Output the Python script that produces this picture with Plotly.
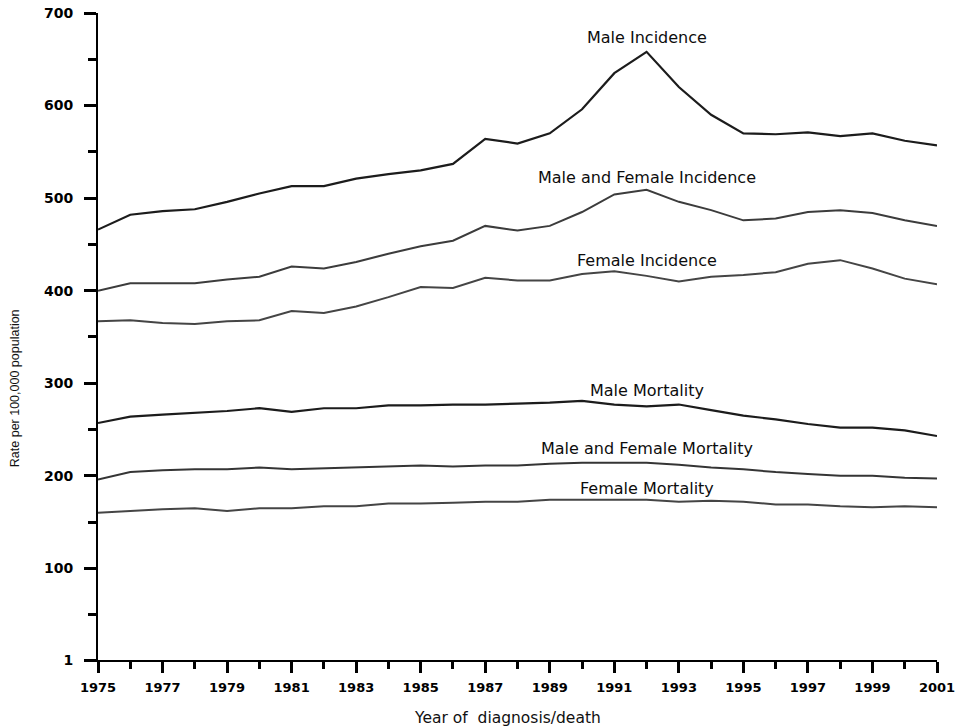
import plotly.graph_objects as go

# Rates per 100,000 population, 1975-2001
years = list(range(1975, 2002))

male_incidence = [466, 482, 486, 488, 496, 505, 513, 513, 521, 526, 530, 537, 564, 559,
                  570, 596, 635, 658, 620, 590, 570, 569, 571, 567, 570, 562, 557]
both_incidence = [400, 408, 408, 408, 412, 415, 426, 424, 431, 440, 448, 454, 470, 465,
                  470, 485, 504, 509, 496, 487, 476, 478, 485, 487, 484, 476, 470]
female_incidence = [367, 368, 365, 364, 367, 368, 378, 376, 383, 393, 404, 403, 414, 411,
                    411, 418, 421, 416, 410, 415, 417, 420, 429, 433, 424, 413, 407]
male_mortality = [257, 264, 266, 268, 270, 273, 269, 273, 273, 276, 276, 277, 277, 278,
                  279, 281, 277, 275, 277, 271, 265, 261, 256, 252, 252, 249, 243]
both_mortality = [196, 204, 206, 207, 207, 209, 207, 208, 209, 210, 211, 210, 211, 211,
                  213, 214, 214, 214, 212, 209, 207, 204, 202, 200, 200, 198, 197]
female_mortality = [160, 162, 164, 165, 162, 165, 165, 167, 167, 170, 170, 171, 172, 172,
                    174, 174, 174, 174, 172, 173, 172, 169, 169, 167, 166, 167, 166]

series_names = ["Male Incidence", "Male and Female Incidence", "Female Incidence",
                "Male Mortality", "Male and Female Mortality", "Female Mortality"]
series_values = [male_incidence, both_incidence, female_incidence,
                 male_mortality, both_mortality, female_mortality]

y_tick_values = [1, 100, 200, 300, 400, 500, 600, 700]
y_tick_text = ["1", "100", "200", "300", "400", "500", "600", "700"]
x_tick_values = list(range(1975, 2002, 2))

# styling per series: colour, width, label anchor (x, y in data units)
line_colors = ["#1c1c1c", "#3c3c3c", "#454545", "#1c1c1c", "#353535", "#454545"]
line_widths = [2.2, 2.0, 2.0, 2.2, 2.0, 2.0]
label_anchor_x = 1992
label_anchor_y = [673, 522, 433, 292, 229, 186]

fig = go.Figure()
for name, vals, col, w in zip(series_names, series_values, line_colors, line_widths):
    fig.add_trace(go.Scatter(x=years, y=vals, mode="lines", name=name,
                             line=dict(color=col, width=w), showlegend=False))

for name, ly in zip(series_names, label_anchor_y):
    fig.add_annotation(x=label_anchor_x, y=ly, text=name, showarrow=False,
                       xanchor="center", yanchor="middle",
                       font=dict(family="DejaVu Sans", size=16, color="#0d0d0d"))

# axis titles
fig.add_annotation(xref="paper", yref="paper", x=-0.099, y=0.42,
                   text="Rate per 100,000 population", textangle=-90, showarrow=False,
                   xanchor="center", yanchor="middle",
                   font=dict(family="Liberation Sans", size=12.5, color="#111111"))
fig.add_annotation(xref="paper", yref="paper", x=0.488, y=-0.09,
                   text="Year of  diagnosis/death", showarrow=False,
                   xanchor="center", yanchor="middle",
                   font=dict(family="DejaVu Sans", size=15.5, color="#111111"))

fig.update_layout(
    width=961, height=728,
    margin=dict(l=98, r=24, t=13, b=68),
    paper_bgcolor="white", plot_bgcolor="white",
    xaxis=dict(
        range=[1975, 2001], tickvals=x_tick_values, ticktext=[str(v) for v in x_tick_values],
        automargin=False,
        showline=True, linecolor="black", linewidth=2, showgrid=False, zeroline=False,
        ticks="outside", ticklen=11, tickwidth=2.5, tickcolor="black",
        minor=dict(tickvals=list(range(1976, 2001, 2)), ticks="outside", ticklen=7,
                   tickwidth=2.5, tickcolor="black"),
        tickfont=dict(family="DejaVu Sans", size=13, color="black", weight="bold"),
        ticklabelstandoff=3,
    ),
    yaxis=dict(
        range=[1, 700], tickvals=y_tick_values, ticktext=y_tick_text,
        automargin=False,
        showline=True, linecolor="black", linewidth=2, showgrid=False, zeroline=False,
        ticks="outside", ticklen=12, tickwidth=2.5, tickcolor="black",
        minor=dict(tickvals=list(range(50, 700, 100)), ticks="outside", ticklen=8,
                   tickwidth=2.5, tickcolor="black"),
        tickfont=dict(family="DejaVu Sans", size=14, color="black", weight="bold"),
        ticklabelstandoff=8,
    ),
)

fig.write_html("out.html")
